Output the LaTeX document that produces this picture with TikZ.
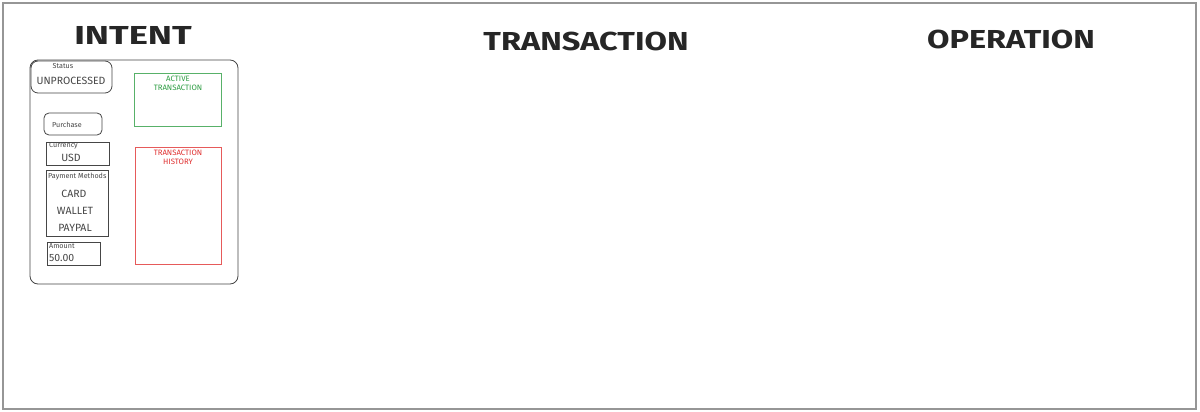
\documentclass[tikz,border=0pt]{standalone}
\usepackage{fontspec}
\setmainfont{Fira Sans}
\definecolor{framegray}{RGB}{150,150,150}
\definecolor{inkgray}{RGB}{70,70,70}
\definecolor{activegreen}{RGB}{47,158,68}
\definecolor{historyred}{RGB}{224,49,49}
\newcommand{\wide}[2][1.25]{\scalebox{#1}[1]{#2}}
\tikzset{
  title/.style={font=\fontsize{26}{30}\selectfont\bfseries, text=black!85},
  field/.style={draw=inkgray, line width=0.8pt},
  tag/.style={font=\fontsize{7.2}{8}\selectfont, text=inkgray, inner sep=0pt},
  entry/.style={font=\fontsize{10.5}{12}\selectfont, text=inkgray, inner sep=0pt},
  panel/.style={line width=0.8pt},
  panelhead/.style={font=\fontsize{7.8}{9}\selectfont, align=center, inner sep=0pt}
}
\begin{document}
\begin{tikzpicture}[x=1pt,y=-1pt]
  \useasboundingbox (0,0) rectangle (1200,412);
  \fill[white] (0,0) rectangle (1200,412);
  \draw[framegray, line width=1.2pt] (3,3) rectangle (1196,409);

  % Titles
  \node[title] (intent) at (133,35) {\wide[1.4]{INTENT}};
  \node[title] (transaction) at (586,41) {\wide{TRANSACTION}};
  \node[title] (operation) at (1011,39) {\wide{OPERATION}};

  % Intent card
  \draw[field, rounded corners=8pt] (30,60) rectangle (238,284);

  % Status
  \draw[field, rounded corners=7pt] (31,61) rectangle (112,93);
  \node[tag] (status) at (63,66) {Status};
  \node[entry] (unprocessed) at (71,81) {UNPROCESSED};

  % Purchase
  \draw[field, rounded corners=5pt] (44,113) rectangle (102,135);
  \node[tag] (purchase) at (67,125) {Purchase};

  % Currency
  \draw[field] (46,142) rectangle (109,165);
  \node[tag, anchor=west] (currency) at (49,146) {Currency};
  \node[entry] (usd) at (71,158) {USD};

  % Payment methods
  \draw[field] (46,170) rectangle (108,236);
  \node[tag, anchor=west] (methods) at (48,177) {Payment Methods};
  \node[entry] (card) at (74,194) {CARD};
  \node[entry] (wallet) at (75,211) {WALLET};
  \node[entry] (paypal) at (75,228) {PAYPAL};

  % Amount
  \draw[field] (47,242) rectangle (100,265);
  \node[tag, anchor=west] (amount) at (49,246) {Amount};
  \node[entry, anchor=west] (value) at (49,258) {50.00};

  % Active transaction
  \draw[panel, activegreen!80] (134,73) rectangle (221,126);
  \node[panelhead, text=activegreen] (active) at (178,83) {ACTIVE\\TRANSACTION};

  % Transaction history
  \draw[panel, historyred!80] (135,147) rectangle (221,264);
  \node[panelhead, text=historyred] (history) at (178,157) {TRANSACTION\\HISTORY};
\end{tikzpicture}
\end{document}
